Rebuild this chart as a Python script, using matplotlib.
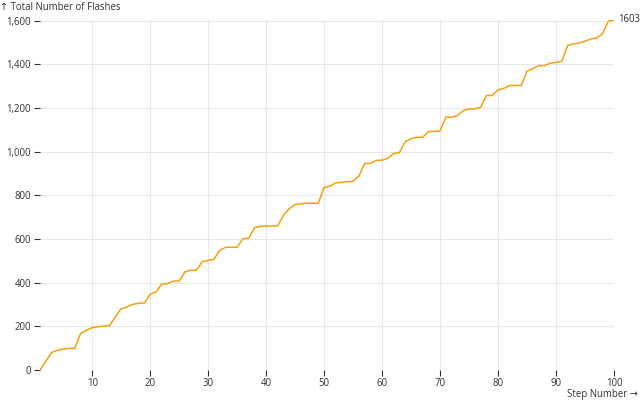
import numpy as np
import matplotlib.pyplot as plt

plt.rcParams['font.family'] = ['Open Sans', 'DejaVu Sans']

# cumulative flashes after each step
steps = list(range(1, 101))
flashes = [0, 40, 80, 90, 96, 99, 100, 167, 182, 194,
           198, 201, 204, 243, 281, 289, 301, 305, 307, 347,
           357, 393, 396, 407, 408, 449, 457, 457, 497, 502,
           507, 548, 562, 562, 562, 602, 603, 652, 658, 660,
           660, 660, 709, 739, 758, 761, 764, 764, 764, 836,
           842, 857, 860, 862, 865, 888, 946, 946, 960, 961,
           969, 992, 996, 1045, 1060, 1066, 1066, 1092, 1093, 1095,
           1158, 1158, 1165, 1188, 1196, 1196, 1203, 1257, 1257, 1283,
           1290, 1303, 1303, 1303, 1368, 1380, 1394, 1394, 1405, 1409,
           1414, 1486, 1494, 1498, 1506, 1516, 1520, 1539, 1597, 1603]
x_ticks = list(range(10, 101, 10))
y_ticks = list(range(0, 1601, 200))

W, H = 640, 400
fig = plt.figure(figsize=(W / 100, H / 100), dpi=100)
# plot area: x 40..614 px, y 20..370 px (from top)
ax = fig.add_axes([40 / W, 30 / H, (614 - 40) / W, (370 - 20) / H])

txt = '#333333'
fs = 6.9
ax.plot(steps, flashes, color='#f5a00f', lw=1.1, solid_joinstyle='round')
ax.set_xlim(1, 100)
ax.set_ylim(0, 1603)

ax.set_xticks(x_ticks)
ax.set_yticks(y_ticks)
ax.set_yticklabels([f'{v:,}' for v in y_ticks])
ax.grid(True, color='#e8e8e8', lw=0.8)
ax.set_axisbelow(True)
for s in ax.spines.values():
    s.set_visible(False)
ax.tick_params(axis='both', labelsize=fs, colors=txt, length=4.5, width=0.8)
ax.tick_params(axis='x', pad=1.5)
ax.tick_params(axis='y', pad=2)

last = flashes[-1]
ax.annotate(str(last), xy=(steps[-1], last), xytext=(3, 0),
            textcoords='offset points', va='center', ha='left',
            fontsize=fs, color=txt, annotation_clip=False)

fig.text(0 / W, 1 - 7 / H, '↑ Total Number of Flashes', fontsize=fs,
         color=txt, va='center', ha='left')
fig.text(638 / W, 1 - 394 / H, 'Step Number →', fontsize=fs,
         color=txt, va='center', ha='right')

fig.savefig('out.png', dpi=100)
